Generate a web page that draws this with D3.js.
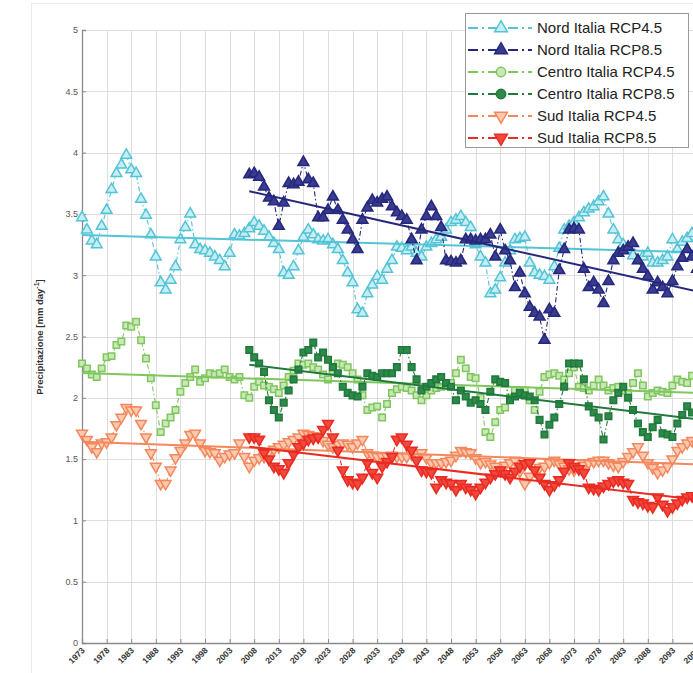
<!DOCTYPE html>
<html>
<head>
<meta charset="utf-8">
<script src="https://cdn.jsdelivr.net/npm/d3@7/dist/d3.min.js"></script>
<style>
  body { margin: 0; background: #fff; }
  svg { display: block; font-family: "Liberation Sans", Arial, sans-serif; }
</style>
</head>
<body>
<svg id="chart" width="693" height="673"></svg>
<script>
// years of the two scenarios
var startHist = 1973, startProj = 2007, endYear = 2100;

// yearly values [mm day-1]
var nordRcp45 = [3.47,3.37,3.28,3.25,3.40,3.53,3.70,3.83,3.90,3.98,3.86,3.83,3.62,3.49,3.33,3.15,2.94,2.88,2.96,3.07,
  3.29,3.39,3.50,3.25,3.21,3.20,3.18,3.15,3.12,3.07,3.18,3.33,3.32,3.34,3.38,3.43,3.40,3.36,3.31,3.26,
  3.21,3.02,3.00,3.07,3.20,3.31,3.37,3.33,3.29,3.28,3.29,3.25,3.21,3.12,3.02,2.94,2.72,2.69,2.85,2.92,
  2.99,2.96,3.05,3.12,3.23,3.22,3.20,3.23,3.18,3.15,3.23,3.26,3.29,3.31,3.37,3.43,3.45,3.48,3.43,3.39,
  3.25,3.15,3.10,2.85,2.88,2.98,3.10,3.20,3.29,3.30,3.31,3.10,3.02,3.00,2.99,2.96,3.07,3.22,3.37,3.40,
  3.43,3.47,3.51,3.54,3.56,3.60,3.64,3.50,3.37,3.29,3.25,3.21,3.16,3.12,3.15,3.18,3.10,3.10,3.12,3.15,
  3.29,3.21,3.27,3.30,3.34,3.30,3.28,3.25];
var nordRcp85 = [3.82,3.83,3.80,3.72,3.63,3.60,3.40,3.59,3.75,3.74,3.76,3.92,3.78,3.75,3.47,3.47,3.53,3.64,3.53,3.45,
  3.37,3.29,3.21,3.45,3.55,3.61,3.59,3.62,3.64,3.56,3.51,3.48,3.45,3.29,3.12,3.37,3.48,3.56,3.48,3.39,
  3.12,3.11,3.10,3.12,3.29,3.29,3.28,3.29,3.29,3.33,3.15,3.37,3.20,3.12,2.90,3.02,2.85,2.74,2.69,2.66,
  2.47,2.72,2.69,3.04,3.21,3.37,3.38,3.37,3.05,2.90,2.94,2.88,2.77,2.95,3.12,3.18,3.20,3.23,3.26,3.12,
  3.05,2.99,2.88,2.94,2.90,2.85,2.95,3.07,3.14,3.21,3.15,3.05,3.00,2.95];
var centroRcp45 = [2.28,2.24,2.19,2.17,2.24,2.33,2.34,2.43,2.46,2.59,2.58,2.62,2.47,2.32,2.16,1.94,1.72,1.79,1.84,1.90,
  2.05,2.12,2.17,2.23,2.13,2.16,2.20,2.19,2.20,2.23,2.17,2.15,2.17,2.02,2.00,2.09,2.13,2.10,2.09,2.07,
  2.04,2.10,2.17,2.22,2.28,2.27,2.28,2.25,2.23,2.19,2.15,2.22,2.28,2.27,2.25,2.20,2.15,2.02,1.90,1.92,
  1.93,1.84,1.95,2.04,2.07,2.09,2.08,2.06,2.02,1.98,2.02,2.06,2.08,2.09,2.10,2.12,2.20,2.31,2.24,2.17,
  2.16,2.00,1.72,1.68,1.80,1.90,1.92,2.00,2.06,2.06,2.06,1.98,1.90,2.05,2.17,2.19,2.20,2.18,2.15,2.20,
  2.25,2.09,2.08,2.06,2.10,2.15,2.10,2.06,2.08,2.09,2.06,2.04,2.12,2.20,2.10,2.01,2.04,2.06,2.05,2.04,
  2.10,2.15,2.13,2.12,2.18,2.16,2.14,2.12];
var centroRcp85 = [2.39,2.33,2.28,2.21,1.98,1.90,1.84,1.96,2.06,2.15,2.23,2.37,2.39,2.45,2.33,2.37,2.31,2.25,2.20,2.09,
  2.04,2.02,2.01,2.09,2.20,2.18,2.17,2.20,2.20,2.20,2.25,2.39,2.39,2.25,2.15,2.06,2.09,2.12,2.15,2.17,
  2.12,2.09,1.98,2.06,2.01,1.96,1.98,1.95,1.90,2.05,2.15,2.13,2.12,1.98,2.01,2.04,2.02,2.01,1.98,1.82,
  1.70,1.78,1.84,1.95,2.09,2.28,2.28,2.28,2.15,1.93,1.88,1.84,1.66,1.85,1.98,2.04,2.09,2.00,1.90,1.79,
  1.72,1.68,1.76,1.82,1.71,1.70,1.68,1.79,1.86,1.93,1.88,1.84,1.80,1.78];
var sudRcp45 = [1.71,1.66,1.60,1.56,1.63,1.64,1.68,1.78,1.84,1.92,1.90,1.90,1.79,1.68,1.55,1.44,1.30,1.30,1.41,1.51,
  1.57,1.63,1.70,1.71,1.63,1.57,1.56,1.55,1.49,1.52,1.54,1.55,1.63,1.52,1.44,1.49,1.51,1.52,1.56,1.58,
  1.60,1.62,1.64,1.66,1.68,1.71,1.70,1.69,1.68,1.65,1.62,1.60,1.62,1.63,1.62,1.60,1.63,1.66,1.55,1.53,
  1.52,1.52,1.52,1.53,1.52,1.52,1.52,1.54,1.55,1.55,1.51,1.47,1.47,1.47,1.48,1.49,1.53,1.57,1.56,1.55,
  1.51,1.47,1.48,1.46,1.44,1.41,1.45,1.47,1.49,1.40,1.30,1.36,1.41,1.43,1.44,1.47,1.49,1.46,1.44,1.42,
  1.41,1.43,1.45,1.47,1.48,1.49,1.49,1.47,1.45,1.44,1.48,1.52,1.56,1.60,1.53,1.47,1.43,1.39,1.41,1.44,
  1.50,1.57,1.60,1.63,1.65,1.62,1.60,1.58];
var sudRcp85 = [1.68,1.68,1.66,1.55,1.50,1.44,1.42,1.39,1.47,1.54,1.60,1.63,1.66,1.67,1.68,1.74,1.79,1.68,1.57,1.41,
  1.33,1.31,1.30,1.35,1.47,1.39,1.35,1.44,1.48,1.52,1.66,1.68,1.62,1.57,1.49,1.41,1.40,1.39,1.27,1.33,
  1.31,1.30,1.25,1.30,1.27,1.25,1.22,1.27,1.31,1.35,1.38,1.41,1.38,1.35,1.40,1.44,1.46,1.47,1.41,1.35,
  1.30,1.25,1.29,1.33,1.40,1.47,1.44,1.42,1.39,1.27,1.26,1.25,1.28,1.30,1.32,1.33,1.31,1.30,1.17,1.15,
  1.14,1.12,1.11,1.19,1.13,1.08,1.11,1.14,1.17,1.19,1.20,1.18,1.16,1.15];

var seriesNames = ["Nord Italia RCP4.5", "Nord Italia RCP8.5", "Centro Italia RCP4.5",
                   "Centro Italia RCP8.5", "Sud Italia RCP4.5", "Sud Italia RCP8.5"];
var yTicks = [0, 0.5, 1, 1.5, 2, 2.5, 3, 3.5, 4, 4.5, 5];
var xTicks = d3.range(1973, 2101, 5);

var series = [
  {name: seriesNames[0], start: startHist, values: nordRcp45,   color: "#52c4d6", shape: d3.symbolTriangle, fill: "#c6edf3", sw: 1.5},
  {name: seriesNames[1], start: startProj, values: nordRcp85,   color: "#26287c", shape: d3.symbolTriangle, fill: "#3a3c90", sw: 1.6},
  {name: seriesNames[2], start: startHist, values: centroRcp45, color: "#80c65e", shape: d3.symbolSquare,   fill: "#c9e8b8", sw: 1.5},
  {name: seriesNames[3], start: startProj, values: centroRcp85, color: "#1f7a3c", shape: d3.symbolSquare,   fill: "#2f8a4a", sw: 1.6},
  {name: seriesNames[4], start: startHist, values: sudRcp45,    color: "#f4875c", shape: d3.symbolTriangle, fill: "#fbc8b0", sw: 1.5, down: true},
  {name: seriesNames[5], start: startProj, values: sudRcp85,    color: "#ea2b22", shape: d3.symbolTriangle, fill: "#f04a3e", sw: 1.6, down: true}
];

var svg = d3.select("#chart");
var width = +svg.attr("width"), height = +svg.attr("height");

var x = d3.scaleLinear().domain([1973, 2100]).range([82, 82 + 127 * 4.92]);
var y = d3.scaleLinear().domain([0, 5]).range([643, 30]);

// faint frame of the original figure
svg.append("rect").attr("x", 31.5).attr("y", 3.5).attr("width", 700).attr("height", 700)
    .attr("fill", "none").attr("stroke", "#ececec");

// grid
var grid = svg.append("g").attr("stroke", "#dedede").attr("stroke-width", 1);
grid.selectAll(".gx").data(xTicks).enter().append("line")
    .attr("x1", function(d) { return Math.round(x(d)) + 0.5; })
    .attr("x2", function(d) { return Math.round(x(d)) + 0.5; })
    .attr("y1", y(5)).attr("y2", y(0));
grid.selectAll(".gy").data(yTicks).enter().append("line")
    .attr("x1", x(1973)).attr("x2", width)
    .attr("y1", function(d) { return Math.round(y(d)) + 0.5; })
    .attr("y2", function(d) { return Math.round(y(d)) + 0.5; });

// axes
var yAxis = svg.append("g").attr("transform", "translate(" + x(1973) + ",0)")
    .call(d3.axisLeft(y).tickValues(yTicks).tickSize(-4).tickPadding(4).tickFormat(function(d) { return d; }));
yAxis.selectAll("text").attr("fill", "#555").style("font-size", "9px");

var xAxis = svg.append("g").attr("transform", "translate(0," + y(0) + ")")
    .call(d3.axisBottom(x).tickValues(xTicks).tickSize(-4).tickFormat(function(d) { return d; }));
xAxis.selectAll("text")
    .attr("fill", "#333").style("font-size", "8.5px").style("font-weight", "bold")
    .attr("text-anchor", "end").attr("dy", "0.3em")
    .attr("transform", "translate(-1,4) rotate(-45)");
svg.selectAll(".domain").attr("stroke", "#8a8a8a").attr("stroke-width", 1.3);
svg.selectAll(".tick line").attr("stroke", "#8a8a8a");

// y label
svg.append("text")
    .attr("transform", "translate(43,337) rotate(-90)")
    .attr("text-anchor", "middle")
    .style("font-size", "9.5px").style("font-weight", "bold").attr("fill", "#333")
    .text("Precipitazione [mm day")
    .append("tspan").attr("dy", "-4").style("font-size", "7px").text("-1")
    .select(function() { return this.parentNode; })
    .append("tspan").attr("dy", "4").text("]");

function linearFit(s) {
  var n = s.values.length, sx = 0, sy = 0, sxx = 0, sxy = 0;
  s.values.forEach(function(v, i) {
    var t = s.start + i;
    sx += t; sy += v; sxx += t * t; sxy += t * v;
  });
  var b = (n * sxy - sx * sy) / (n * sxx - sx * sx);
  var a = (sy - b * sx) / n;
  var t0 = s.start, t1 = s.start + n - 1;
  return [[t0, a + b * t0], [t1, a + b * t1]];
}

var line = d3.line().x(function(d) { return x(d[0]); }).y(function(d) { return y(d[1]); });

series.forEach(function(s) {
  var pts = s.values.map(function(v, i) { return [s.start + i, v]; });
  var g = svg.append("g");

  g.append("path").datum(pts).attr("d", line)
      .attr("fill", "none").attr("stroke", s.color).attr("stroke-width", 1.1)
      .attr("stroke-dasharray", "5,2.5,1.5,2.5");

  var sym = d3.symbol().type(s.shape).size(s.shape === d3.symbolSquare ? 42 : 50);
  g.selectAll("path.m").data(pts).enter().append("path")
      .attr("class", "m")
      .attr("d", sym)
      .attr("transform", function(d) {
        return "translate(" + x(d[0]) + "," + y(d[1]) + ")" + (s.down ? " rotate(180)" : "");
      })
      .attr("fill", s.fill).attr("stroke", s.color).attr("stroke-width", s.sw);

  g.append("path").datum(linearFit(s)).attr("d", line)
      .attr("fill", "none").attr("stroke", s.color).attr("stroke-width", 2);
});

// legend
var legend = svg.append("g");
legend.append("rect").attr("x", 465.5).attr("y", 13.5).attr("width", 223).attr("height", 134)
    .attr("fill", "#fff").attr("stroke", "#999").attr("stroke-width", 1);

series.forEach(function(s, i) {
  var ly = 28 + i * 22;
  legend.append("line").attr("x1", 468).attr("x2", 532).attr("y1", ly).attr("y2", ly)
      .attr("stroke", s.color).attr("stroke-width", 2).attr("stroke-dasharray", "10,4,2,4");
  var shape = s.shape === d3.symbolSquare ? d3.symbolCircle : s.shape;
  legend.append("path")
      .attr("d", d3.symbol().type(shape).size(70))
      .attr("transform", "translate(501," + ly + ")" + (s.down ? " rotate(180)" : ""))
      .attr("fill", s.fill).attr("stroke", s.color).attr("stroke-width", 1.5);
  legend.append("text").attr("x", 537).attr("y", ly).attr("dy", "0.35em")
      .style("font-size", "15px").attr("fill", "#222").text(s.name);
});
</script>
</body>
</html>
